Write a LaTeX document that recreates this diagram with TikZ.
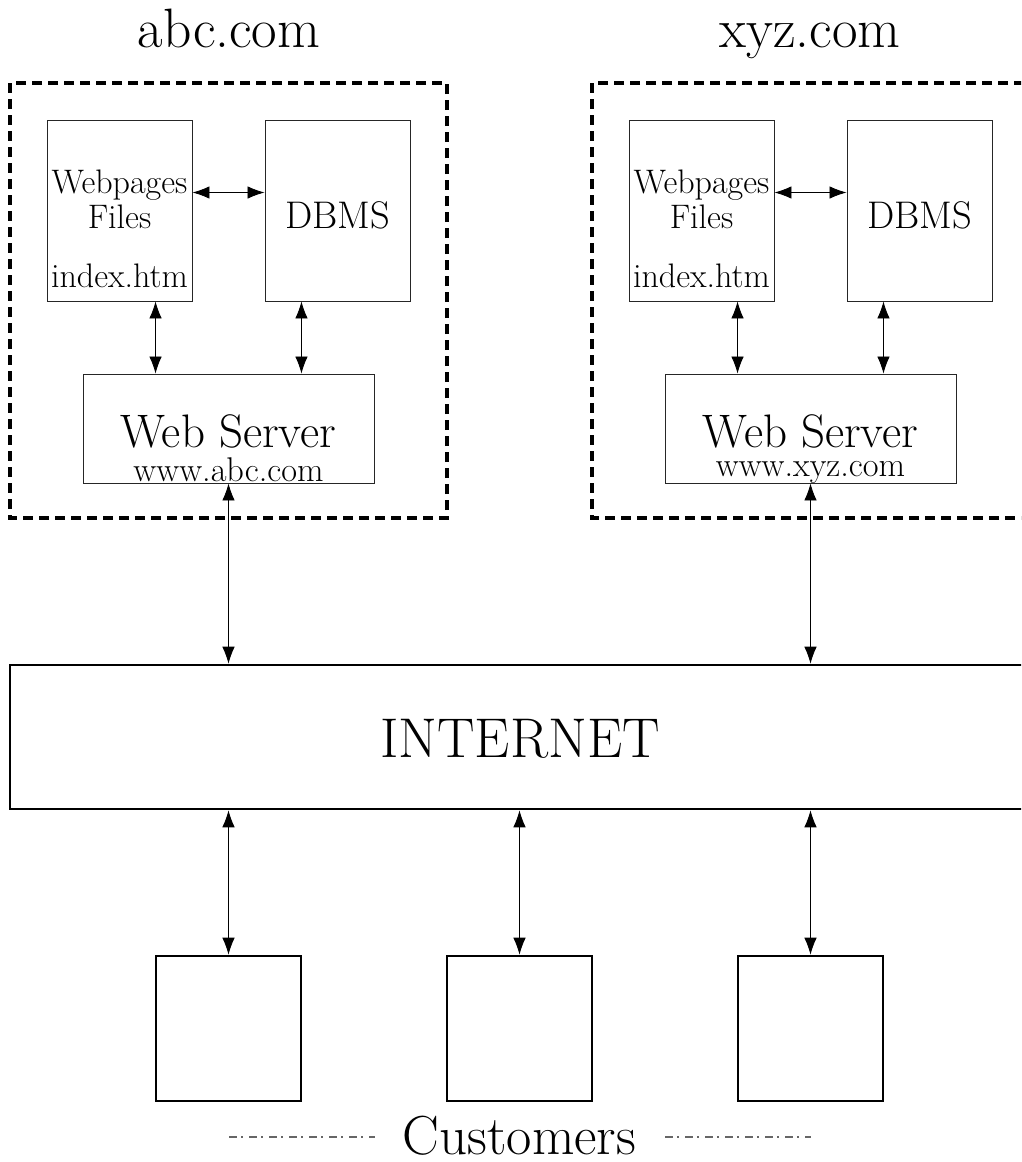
\documentclass[tikz,border=0pt]{standalone}
\usetikzlibrary{arrows.meta,calc}
\newcommand{\fs}[1]{\fontsize{#1}{#1}\selectfont}
\tikzset{
  x=1pt, y=-1pt,
  inbox/.style={draw=black!85, line width=0.9pt, inner sep=0pt, rectangle},
  thickbox/.style={draw=black, line width=2.6pt, inner sep=0pt, rectangle},
  site/.style={draw=black, line width=4pt, dash pattern=on 10pt off 6pt},
  conn/.style={line width=0.8pt, {Latex[length=17pt,width=12.5pt]}-{Latex[length=17pt,width=12.5pt]}},
  lbl/.style={anchor=base, inner sep=0pt},
  dd/.style={draw=black!60, line width=1.2pt, dash pattern=on 8pt off 4pt on 1.5pt off 6.5pt}
}
\begin{document}
\begin{tikzpicture}
\useasboundingbox (0,0) rectangle (1021,1162);
\clip (0,0) rectangle (1021,1162);
% ---------- abc.com site ----------
\node[lbl] (t1) at (229,47) {\fs{55.5}abc.com};
\draw[site] (10,83) rectangle (447,518);
\node[inbox, minimum width=145pt, minimum height=181pt] (wp1) at (119.5,210.5) {};
\node[inbox, minimum width=145pt, minimum height=181pt] (db1) at (337.5,210.5) {};
\node[inbox, minimum width=291pt, minimum height=109pt] (ws1) at (228.5,428.5) {};
\node[lbl] (wp1a) at (119.5,193) {\fs{34}Webpages};
\node[lbl] (wp1b) at (119.5,228) {\fs{34}Files};
\node[lbl] (wp1c) at (119.5,287) {\fs{34}index.htm};
\node[lbl] (db1t) at (337.5,228) {\fs{38.5}DBMS};
\node[lbl] (ws1t) at (228.5,447) {\fs{47}Web Server};
\node[lbl] (ws1u) at (228.5,481) {\fs{34.3}www.abc.com};
\draw[conn] ([yshift=18pt]wp1.east) -- ([yshift=18pt]db1.west);
\draw[conn] (wp1.south -| {$(ws1.north west)!0.25!(ws1.north east)$}) -- ($(ws1.north west)!0.25!(ws1.north east)$);
\draw[conn] (db1.south -| {$(ws1.north west)!0.75!(ws1.north east)$}) -- ($(ws1.north west)!0.75!(ws1.north east)$);
% ---------- xyz.com site ----------
\node[lbl] (t2) at (810,47) {\fs{55.5}xyz.com};
\draw[site] (592,83) rectangle (1029,518);
\node[inbox, minimum width=145pt, minimum height=181pt] (wp2) at (701.5,210.5) {};
\node[inbox, minimum width=145pt, minimum height=181pt] (db2) at (919.5,210.5) {};
\node[inbox, minimum width=291pt, minimum height=109pt] (ws2) at (810.5,428.5) {};
\node[lbl] (wp2a) at (701.5,193) {\fs{34}Webpages};
\node[lbl] (wp2b) at (701.5,228) {\fs{34}Files};
\node[lbl] (wp2c) at (701.5,287) {\fs{34}index.htm};
\node[lbl] (db2t) at (919.5,228) {\fs{38.5}DBMS};
\node[lbl] (ws2t) at (810.5,447) {\fs{47}Web Server};
\node[lbl] (ws2u) at (810.5,476) {\fs{34.3}www.xyz.com};
\draw[conn] ([yshift=18pt]wp2.east) -- ([yshift=18pt]db2.west);
\draw[conn] (wp2.south -| {$(ws2.north west)!0.25!(ws2.north east)$}) -- ($(ws2.north west)!0.25!(ws2.north east)$);
\draw[conn] (db2.south -| {$(ws2.north west)!0.75!(ws2.north east)$}) -- ($(ws2.north west)!0.75!(ws2.north east)$);
% ---------- Internet ----------
\node[thickbox, minimum width=1030pt, minimum height=144pt] (inet) at (525,737) {};
\node[lbl] (inett) at (520,757) {\fs{56}INTERNET};
\draw[conn] (ws1.south) -- (ws1.south |- inet.north);
\draw[conn] (ws2.south) -- (ws2.south |- inet.north);
% ---------- Customers ----------
\node[thickbox, minimum size=145pt] (c1) at (228.5,1028.5) {};
\node[thickbox, minimum size=145pt] (c2) at (519.5,1028.5) {};
\node[thickbox, minimum size=145pt] (c3) at (810.5,1028.5) {};
\draw[conn] (c1.north |- inet.south) -- (c1.north);
\draw[conn] (c2.north |- inet.south) -- (c2.north);
\draw[conn] (c3.north |- inet.south) -- (c3.north);
\node[lbl] (cust) at (519.5,1154) {\fs{55}Customers};
\coordinate (dl1) at (229,1137);
\coordinate (dl2) at (375,1137);
\coordinate (dr1) at (665,1137);
\coordinate (dr2) at (811,1137);
\draw[dd] (dl1) -- (dl2);
\draw[dd] (dr1) -- (dr2);
\end{tikzpicture}
\end{document}
